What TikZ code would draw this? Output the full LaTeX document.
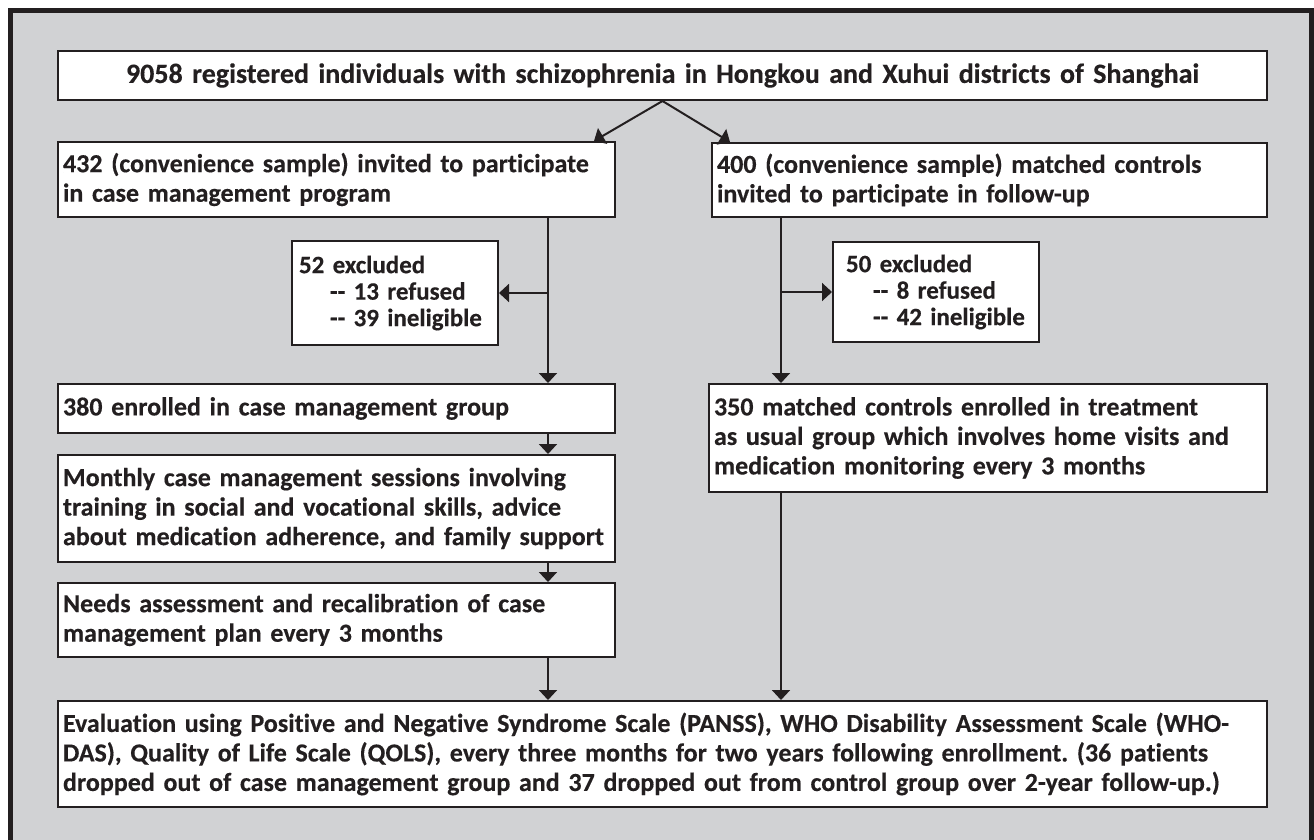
\documentclass[tikz,border=0pt]{standalone}
\usepackage{fontspec}
\setmainfont{Carlito}[Ligatures=CommonOff, BoldFeatures={FakeBold=0.3}]
\usetikzlibrary{arrows.meta}
\definecolor{bg}{HTML}{D1D2D4}
\definecolor{ink}{HTML}{231F20}
\tikzset{
  box/.style={draw=ink, line width=2pt, fill=white, anchor=north west,
    inner xsep=5pt, inner ysep=0pt, align=left, text=ink,
    font=\frenchspacing\bfseries\fontsize{26}{29.5}\selectfont},
  exbox/.style={box, font=\frenchspacing\bfseries\fontsize{25}{26.5}\selectfont},
  conn/.style={draw=ink, line width=2pt, -{Triangle[width=18pt,length=10pt]}},
}
\newcommand{\dd}{-\kern0pt-}
\begin{document}
\begin{tikzpicture}[x=1pt,y=-1pt]
\useasboundingbox (0,0) rectangle (1314,839);
\fill[bg] (10,10) rectangle (1312,845);
\draw[ink, line width=5pt] (10.5,845) -- (10.5,10) -- (1311.5,10) -- (1311.5,845);

\node[box, align=center, text width=1199pt, minimum width=1209pt, minimum height=49pt,
  font=\frenchspacing\bfseries\fontsize{28}{30}\selectfont] (top) at (57,50)
  {9058 registered individuals with schizophrenia in Hongkou and Xuhui districts of Shanghai};
\node[box, text width=547pt, minimum width=557pt, minimum height=75pt] (b432) at (57,141)
  {432 (convenience sample) invited to participate\\in case management program};
\node[box, text width=545pt, minimum width=555pt, minimum height=74pt] (b400) at (711,142)
  {400 (convenience sample) matched controls\\invited to participate in follow-up};
\node[exbox, inner xsep=7pt, text width=192pt, minimum width=206pt, minimum height=104pt] (ex1) at (291,240)
  {52 excluded\\\hspace*{31pt}\dd{} 13 refused\\\hspace*{31pt}\dd{} 39 ineligible};
\node[exbox, inner xsep=13pt, text width=180pt, minimum width=206pt, minimum height=100pt] (ex2) at (832,241)
  {50 excluded\\\hspace*{27pt}\dd{} 8 refused\\\hspace*{27pt}\dd{} 42 ineligible};
\node[box, text width=547pt, minimum width=557pt, minimum height=49pt] (b380) at (57,383)
  {380 enrolled in case management group};
\node[box, text width=548pt, minimum width=558pt, minimum height=108pt] (b350) at (708,383)
  {350 matched controls enrolled in treatment\\as usual group which involves home visits and\\medication monitoring every 3 months};
\node[box, text width=547pt, minimum width=557pt, minimum height=107pt] (bmon) at (57,454)
  {Monthly case management sessions involving\\training in social and vocational skills, advice\\about medication adherence, and family support};
\node[box, text width=547pt, minimum width=557pt, minimum height=74pt] (bneed) at (57,582)
  {Needs assessment and recalibration of case\\management plan every 3 months};
\node[box, text width=1199pt, minimum width=1209pt, minimum height=106pt] (beval) at (57,700)
  {Evaluation using Positive and Negative Syndrome Scale (PANSS), WHO Disability Assessment Scale (WHO-\\DAS), Quality of Life Scale (QOLS), every three months for two years following enrollment. (36 patients\\dropped out of case management group and 37 dropped out from control group over 2-year follow-up.)};

\coordinate (L) at (548,0);
\coordinate (R) at (781,0);

\draw[conn] (top.south) -- ([xshift=-22pt]b432.north east);
\draw[conn] (top.south) -- ([xshift=19pt]b400.north west);

\draw[conn] (b432.south -| L) -- (b380.north -| L);
\draw[conn] (L |- ex1.east) -- (ex1.east);
\draw[conn] (b380.south -| L) -- (bmon.north -| L);
\draw[conn] (bmon.south -| L) -- (bneed.north -| L);
\draw[conn] (bneed.south -| L) -- (beval.north -| L);

\draw[conn] (b400.south -| R) -- (b350.north -| R);
\draw[conn] (R |- ex2.west) -- (ex2.west);
\draw[conn] (b350.south -| R) -- (beval.north -| R);
\end{tikzpicture}
\end{document}
